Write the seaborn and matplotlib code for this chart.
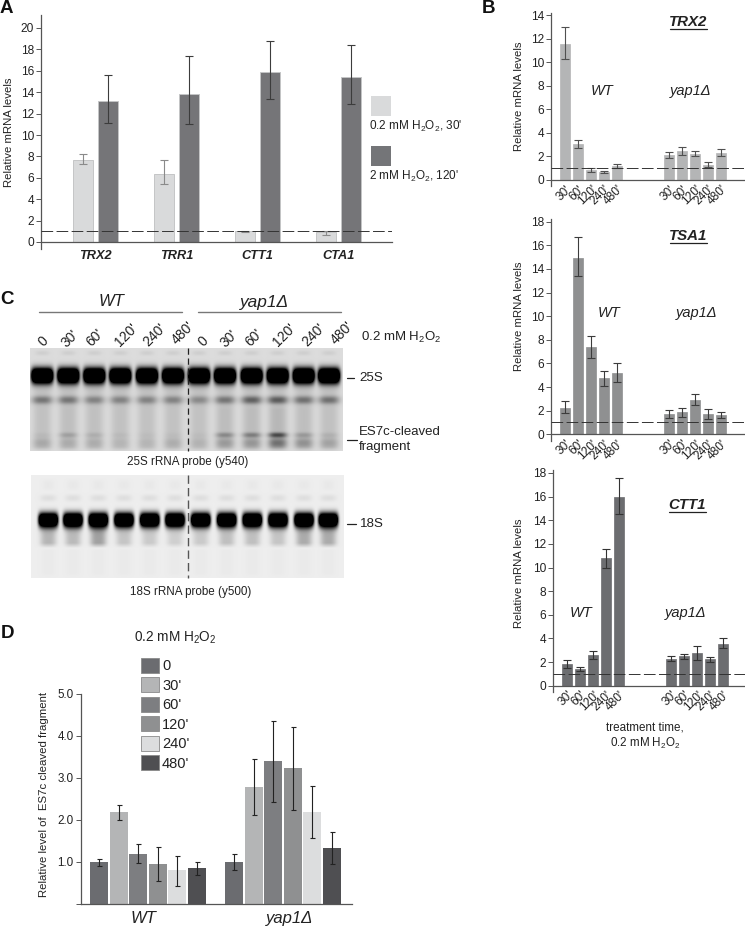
import numpy as np
import pandas as pd
import matplotlib
matplotlib.use("Agg")
import matplotlib.pyplot as plt
from matplotlib.patches import Rectangle
from matplotlib.transforms import ScaledTranslation
import seaborn as sns

# ---------- data ----------
genes_a = ["TRX2", "TRR1", "CTT1", "CTA1"]
cond_a = ["0.2 mM", "2 mM"]
a_low_val = [7.7, 6.4, 1.0, 0.9]
a_low_lo = [7.3, 5.4, 0.92, 0.7]
a_low_hi = [8.2, 7.65, 1.03, 1.05]
a_high_val = [13.2, 13.8, 15.85, 15.4]
a_high_lo = [11.1, 11.0, 13.4, 12.9]
a_high_hi = [15.6, 17.35, 18.8, 18.4]

times_b = ["30'", "60'", "120'", "240'", "480'"]
trx2_val = [11.55, 3.05, 0.85, 0.7, 1.15, 2.1, 2.45, 2.25, 1.3, 2.3]
trx2_lo = [10.3, 2.7, 0.7, 0.6, 1.0, 1.85, 2.15, 2.0, 1.1, 2.0]
trx2_hi = [13.0, 3.4, 1.0, 0.8, 1.4, 2.35, 2.8, 2.5, 1.55, 2.6]
tsa1_val = [2.2, 14.9, 7.4, 4.75, 5.15, 1.75, 1.9, 2.9, 1.75, 1.65]
tsa1_lo = [1.8, 13.4, 6.5, 4.1, 4.4, 1.4, 1.5, 2.5, 1.3, 1.35]
tsa1_hi = [2.8, 16.7, 8.3, 5.4, 6.0, 2.05, 2.25, 3.4, 2.1, 1.9]
ctt1_val = [1.85, 1.45, 2.6, 10.8, 16.0, 2.3, 2.5, 2.8, 2.25, 3.55]
ctt1_lo = [1.5, 1.25, 2.3, 10.0, 14.5, 2.05, 2.3, 2.2, 2.0, 3.2]
ctt1_hi = [2.15, 1.6, 2.95, 11.6, 17.55, 2.5, 2.7, 3.4, 2.45, 4.0]

strains = ["WT", "yap1Δ"]
times_d = ["0", "30'", "60'", "120'", "240'", "480'"]
d_wt_val = [1.0, 2.18, 1.2, 0.95, 0.8, 0.85]
d_wt_lo = [0.9, 2.0, 0.98, 0.54, 0.44, 0.68]
d_wt_hi = [1.08, 2.35, 1.44, 1.36, 1.15, 1.0]
d_yap_val = [1.0, 2.78, 3.4, 3.24, 2.2, 1.33]
d_yap_lo = [0.82, 2.12, 2.42, 2.25, 1.58, 0.95]
d_yap_hi = [1.18, 3.45, 4.35, 4.22, 2.8, 1.72]

# relative band strengths of the blots
lanes = times_d + times_d
band_25s = [1.0, 1.0, 1.0, 1.0, 1.0, 1.0, 1.0, 1.0, 1.0, 1.0, 1.0, 1.0]
band_sec = [.30, .30, .25, .25, .25, .25, .22, .30, .38, .40, .32, .32]
band_es7c = [.03, .12, .07, .03, .02, .02, .02, .20, .24, .42, .14, .06]
band_low = [.10, .08, .08, .05, .05, .08, .06, .14, .15, .28, .18, .12]
band_18s = [1.0, 1.0, 1.0, 1.0, 1.0, 1.0, 1.0, 1.0, 1.0, 1.0, 1.0, 1.0]
smear_18s = [.22, .20, .30, .16, .14, .12, .14, .18, .18, .16, .26, .26]

# ---------- setup ----------
W, H = 745, 927
sns.set_theme(style="ticks")
plt.rcParams["font.family"] = ["Liberation Sans", "DejaVu Sans"]
plt.rcParams["mathtext.fontset"] = "custom"
plt.rcParams["mathtext.rm"] = "Liberation Sans"
plt.rcParams["mathtext.it"] = "Liberation Sans:italic"
plt.rcParams["mathtext.bf"] = "Liberation Sans:bold"
plt.rcParams["text.color"] = "#222222"
H2O2 = r"H$_{\mathrm{2}}$O$_{\mathrm{2}}$"
fig = plt.figure(figsize=(W / 100, H / 100), dpi=100, facecolor="white")

ov = fig.add_axes([0, 0, 1, 1], zorder=10)
ov.set_xlim(0, W)
ov.set_ylim(H, 0)
ov.axis("off")
ov.patch.set_alpha(0)


def place(l, t, r, b, y0, unit):
    ax = fig.add_axes([l / W, 1 - b / H, (r - l) / W, (b - t) / H])
    ax.patch.set_alpha(0)
    return ax, ((y0 - b) / unit, (y0 - t) / unit)


def style(ax, ylim, xlim, yticks, ylabels, size=8.0):
    ax.set_ylim(*ylim)
    ax.set_xlim(*xlim)
    ax.set_yticks(yticks)
    ax.set_yticklabels(ylabels, fontsize=size, color="#222222")
    ax.spines["top"].set_visible(False)
    ax.spines["right"].set_visible(False)
    ax.spines["bottom"].set_position(("data", 0))
    for s in ("left", "bottom"):
        ax.spines[s].set_color("#555555")
        ax.spines[s].set_linewidth(0.9)
    ax.tick_params(axis="y", length=3.6, width=0.7, color="#555555", pad=1.5)
    ax.set_xlabel("")


def errs(bars, lo, hi, color, cap):
    for bar, l, h in zip(sorted(bars, key=lambda p: p.get_x()), lo, hi):
        cx = bar.get_x() + bar.get_width() / 2
        ax_ = bar.axes
        ax_.plot([cx, cx], [l, h], color=color, lw=0.8, zorder=5, solid_capstyle="butt")
        ax_.errorbar([cx], [l], yerr=[[0], [h - l]], fmt="none", ecolor=color,
                     elinewidth=0, capsize=cap, capthick=0.8, zorder=5)


# ---------- panel A ----------
axA, ylimA = place(41, 15, 392, 249, 242, 10.7)
dfA = pd.DataFrame({
    "gene": genes_a * 2,
    "cond": [cond_a[0]] * 4 + [cond_a[1]] * 4,
    "val": a_low_val + a_high_val,
})
sns.barplot(data=dfA, x="gene", y="val", hue="cond", hue_order=cond_a, order=genes_a,
            palette=["#d9dadb", "#747578"], width=0.617, gap=0.2, legend=False, ax=axA,
            edgecolor="#c4c5c6", linewidth=0.7)
style(axA, ylimA, ((41 - 95.5) / 81, (392 - 95.5) / 81), list(range(0, 21, 2)),
      [str(v) for v in range(0, 21, 2)], size=8.6)
axA.set_xticks(range(4))
axA.set_xticklabels(genes_a, fontsize=9.2, fontweight="bold", fontstyle="italic", color="#222222")
axA.tick_params(axis="x", length=0, pad=5.5)
axA.set_ylabel("Relative mRNA levels", fontsize=8.2, color="#222222")
axA.yaxis.set_label_coords(14, 132, transform=ov.transData)
bars_a = list(axA.containers)
errs(bars_a[0], a_low_lo, a_low_hi, "#8a8a8a", 2.6)
errs(bars_a[1], a_high_lo, a_high_hi, "#3c3c3c", 2.6)
axA.axhline(1, color="#333333", lw=0.7, dashes=(12, 3.5), zorder=6)

ov.add_patch(Rectangle((371, 96), 20, 20, fc="#d9dadb", ec="none"))
ov.text(369, 126, f"0.2 mM {H2O2}, 30'", fontsize=8.5, va="center")
ov.add_patch(Rectangle((371, 146), 20, 20, fc="#747578", ec="none"))
ov.text(369, 176, f"2 mM {H2O2}, 120'", fontsize=8.5, va="center")

# ---------- panel B ----------
n_gap = 3
order_b = [f"WT {t}" for t in times_b] + [" " * (i + 1) for i in range(n_gap)] + [f"yap {t}" for t in times_b]
keys_b = [f"WT {t}" for t in times_b] + [f"yap {t}" for t in times_b]
tick_idx = [order_b.index(k) for k in keys_b]


def panel_b(box, y0, unit, first, values, lo, hi, color, ecolor, yticks, ylab_y):
    ax, ylim = place(*box, y0, unit)
    df = pd.DataFrame({"key": keys_b, "val": values})
    sns.barplot(data=df, x="key", y="val", order=order_b, color=color, width=0.77, ax=ax,
                edgecolor=color, linewidth=0.5, saturation=1)
    l, t, r, b = box
    style(ax, ylim, ((l - first) / 13, (r - first) / 13), yticks, [str(v) for v in yticks], size=8.6)
    ax.set_xticks(tick_idx)
    ax.set_xticklabels(times_b * 2, fontsize=8.6, rotation=45, ha="right", va="top",
                       rotation_mode="anchor", color="#222222")
    ax.tick_params(axis="x", length=0, pad=2.5)
    ax.set_ylabel("Relative mRNA levels", fontsize=8.2, color="#222222")
    ax.yaxis.set_label_coords(524, ylab_y, transform=ov.transData)
    errs(list(ax.patches), lo, hi, ecolor, 2.6)
    ax.axhline(1, color="#333333", lw=0.7, dashes=(12, 3.5), zorder=6)
    return ax


panel_b((551, 13, 745, 186), 180, 11.76, 565, trx2_val, trx2_lo, trx2_hi, "#b4b5b6", "#505050",
        list(range(0, 15, 2)), 96)
panel_b((551, 219, 745, 441), 434.3, 11.81, 565, tsa1_val, tsa1_lo, tsa1_hi, "#8f9091", "#3c3c3c",
        list(range(0, 19, 2)), 316)
panel_b((553, 470, 745, 692), 685.7, 11.82, 567, ctt1_val, ctt1_lo, ctt1_hi, "#6c6d70", "#333333",
        list(range(0, 19, 2)), 573)

for name, x, y, w in [("TRX2", 688, 22, 37), ("TSA1", 688, 236, 37), ("CTT1", 687, 505, 37)]:
    ov.text(x, y, name, fontsize=10.8, fontweight="bold", fontstyle="italic", ha="center", va="center")
    ov.plot([x - w / 2, x + w / 2], [y + 6.5, y + 6.5], color="#222222", lw=0.9)
for x, y, s in [(602, 91, "WT"), (691, 91, "yap1Δ"), (609, 313, "WT"), (697, 313, "yap1Δ"),
                (581, 613, "WT"), (686, 613, "yap1Δ")]:
    ov.text(x, y, s, fontsize=10.5, fontstyle="italic", ha="center", va="center")
ov.text(645, 728, "treatment time,", fontsize=8.4, ha="center", va="center")
ov.text(645, 743, f"0.2 mM {H2O2}", fontsize=8.4, ha="center", va="center")


# ---------- panel C (blots) ----------
def gel(box, bg, lane_x, bands, smears):
    l, t, r, b = box
    w, h = r - l, b - t
    xx, yy = np.meshgrid(np.arange(w) + l + 0.5, np.arange(h) + t + 0.5)
    dark = np.full(xx.shape, 1.0 - bg)
    for i, cx in enumerate(lane_x):
        for (y, hw, hh, power, strength) in bands(i):
            dark += strength * np.exp(-np.abs((xx - cx) / hw) ** power - np.abs((yy - y) / hh) ** 2.2)
        for (y1, y2, hw, strength) in smears(i):
            prof = np.clip((yy - y1) / 5, 0, 1) * np.clip((y2 - yy) / 5, 0, 1)
            dark += strength * prof * np.exp(-np.abs((xx - cx) / hw) ** 3)
    ax = fig.add_axes([l / W, 1 - b / H, w / W, h / H])
    sns.heatmap(1 - np.clip(dark, 0, 1), ax=ax, cmap="gray", vmin=0, vmax=1, cbar=False,
                xticklabels=False, yticklabels=False)
    ax.axis("off")


lanes1 = [42.3, 68.3, 94.3, 120.3, 147, 173, 199, 225, 251.7, 277.7, 303.7, 329]
lanes2 = [48.3, 73, 98.3, 124, 149.7, 175, 200.7, 226.7, 252.3, 278, 304, 328.3]

gel((30, 348, 343, 451), 0.86, lanes1,
    lambda i: [(375.7, 11.0, 7.6, 6, 1.9 * band_25s[i]),
               (400, 10.5, 4.0, 3, band_sec[i]),
               (435, 9.5, 2.6, 3, band_es7c[i]),
               (443, 9.5, 5.0, 3, band_low[i]),
               (353, 7, 2.5, 3, .05)],
    lambda i: [(380, 410, 10, .10), (405, 452, 9.5, .10 + .1 * band_es7c[i])])
gel((31, 475, 344, 578), 0.93, lanes2,
    lambda i: [(520, 9.8, 7.0, 6, 1.9 * band_18s[i]),
               (498, 8, 3.5, 3, .06)],
    lambda i: [(524, 548, 8.0, smear_18s[i]), (478, 492, 6, .02), (546, 578, 7, .015)])

ov.plot([187.5, 187.5], [348, 451], color="#222222", lw=0.9, dashes=(5, 3))
ov.plot([188, 188], [475, 578], color="#555555", lw=1.0, dashes=(6, 3))
ov.plot([39, 182], [312, 312], color="#777777", lw=1.0)
ov.plot([198, 341], [312, 312], color="#777777", lw=1.0)
ov.text(112, 302, "WT", fontsize=12, fontstyle="italic", ha="center", va="center")
ov.text(265, 302, "yap1Δ", fontsize=12.4, fontstyle="italic", ha="center", va="center")
lab_x = [43, 70, 95, 126, 155, 183, 203, 229, 254, 284, 314, 342]
lab_y = [341, 339, 338, 335, 335, 333, 341, 339, 338, 335, 335, 333]
for s, x, y in zip(lanes, lab_x, lab_y):
    ov.text(x, y, s, fontsize=10, rotation=45, ha="center", va="center")
ov.text(361, 337, f"0.2 mM {H2O2}", fontsize=9.5, va="center")
ov.text(359, 378, "25S", fontsize=9.6, va="center")
ov.plot([347, 354], [378, 378], color="#222222", lw=0.9)
ov.text(359, 432, "ES7c-cleaved", fontsize=9.5, va="center")
ov.text(359, 447, "fragment", fontsize=9.5, va="center")
ov.plot([347, 357], [440, 440], color="#222222", lw=0.9)
ov.text(360, 524, "18S", fontsize=9.6, va="center")
ov.plot([347, 356], [524, 524], color="#222222", lw=0.9)
ov.text(188, 462, "25S rRNA probe (y540)", fontsize=8.4, ha="center", va="center")
ov.text(190.7, 592, "18S rRNA probe (y500)", fontsize=8.4, ha="center", va="center")

# ---------- panel D ----------
axD, ylimD = place(80.5, 694, 352, 904, 904, 42)
dfD = pd.DataFrame({
    "strain": [strains[0]] * 6 + [strains[1]] * 6,
    "time": times_d * 2,
    "val": d_wt_val + d_yap_val,
})
colors_d = ["#6b6c70", "#b4b5b6", "#7d7e81", "#8f9091", "#dcddde", "#4f4f52"]
sns.barplot(data=dfD, x="strain", y="val", hue="time", hue_order=times_d, order=strains,
            palette=colors_d, width=0.871, gap=0.08, ax=axD, saturation=1,
            edgecolor="#555555", linewidth=0)
style(axD, ylimD, (-0.5, (352 - 148) / 135), [0, 1, 2, 3, 4, 5],
      ["", "1.0", "2.0", "3.0", "4.0", "5.0"], size=8.4)
axD.set_xticks([0, 1])
axD.set_xticklabels(strains, fontsize=12, fontstyle="italic", color="#222222")
axD.tick_params(axis="x", length=0, pad=5)
for lab, dx in zip(axD.get_xticklabels(), (-5, 7)):
    lab.set_transform(lab.get_transform() + ScaledTranslation(dx / 100, 0, fig.dpi_scale_trans))
axD.set_ylabel("Relative level of  ES7c cleaved fragment", fontsize=8.2, color="#222222")
axD.yaxis.set_label_coords(49, 794, transform=ov.transData)
bars_d = list(axD.containers)
for i, c in enumerate(bars_d):
    errs(c, [d_wt_lo[i], d_yap_lo[i]], [d_wt_hi[i], d_yap_hi[i]], "#222222", 1.8)
sns.move_legend(axD, "upper left", bbox_to_anchor=(141 / W, 1 - 657.5 / H), bbox_transform=fig.transFigure,
                title=None, frameon=False, fontsize=10.5, handlelength=1.22, handleheight=1.24,
                labelspacing=0.27, handletextpad=0.22, borderpad=0, borderaxespad=0)
for h in axD.get_legend().get_patches():
    h.set_edgecolor("#8a8a8a")
    h.set_linewidth(0.6)
ov.text(134, 638, f"0.2 mM {H2O2}", fontsize=9.8, va="center")

# ---------- panel letters ----------
for s, x, y in [("A", 0, 8), ("B", 482, 8), ("C", 0, 300), ("D", 1, 633)]:
    ov.text(x, y, s, fontsize=13.5, fontweight="bold", va="center", color="#111111")

fig.savefig("out.png", dpi=100, facecolor="white")
